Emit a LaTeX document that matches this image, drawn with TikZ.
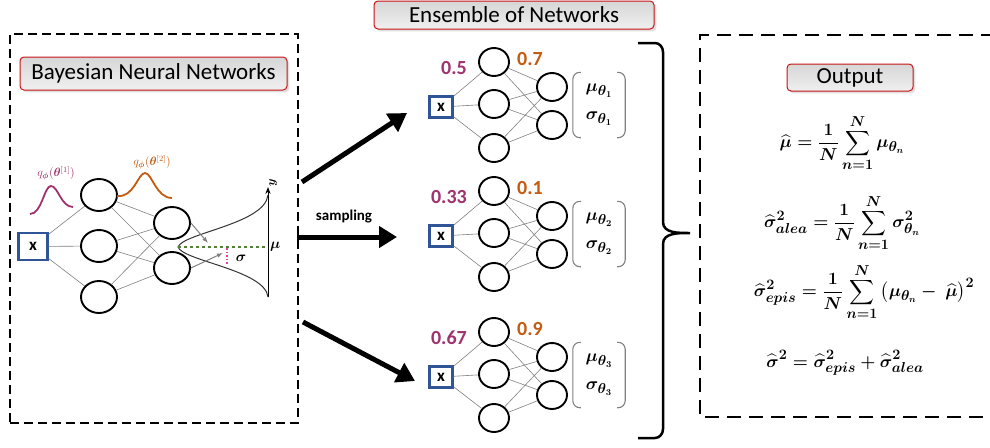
\documentclass[tikz,border=0pt]{standalone}
\usepackage{amsmath,bm}
\usepackage{fontspec}
\setmainfont{Carlito}
\usetikzlibrary{positioning,arrows.meta,shapes.geometric,shadows}

\definecolor{wpurple}{RGB}{160,50,110}
\definecolor{worange}{RGB}{197,90,17}
\definecolor{xblue}{RGB}{47,85,151}
\definecolor{tagred}{RGB}{200,20,20}
\definecolor{meangreen}{RGB}{84,130,53}
\definecolor{sigpink}{RGB}{225,60,170}

\begin{document}
\begin{tikzpicture}[
  x=1pt, y=-1pt,
  panel/.style={draw, dash pattern=on 9pt off 5pt, line width=1.8pt},
  tag/.style={draw=tagred, line width=1pt, rounded corners=4pt, top color=gray!32, bottom color=gray!12, drop shadow={opacity=0.25}, font=\fontsize{23}{26}\selectfont, inner sep=0pt},
  neuron/.style={ellipse, draw, line width=1.9pt, minimum width=30pt, minimum height=28pt, inner sep=0pt},
  bigneuron/.style={neuron, minimum width=36pt, minimum height=32pt},
  inbox/.style={rectangle, draw=xblue, line width=2.3pt, minimum width=23pt, minimum height=21pt, inner sep=0pt, font=\bfseries\fontsize{17}{17}\selectfont},
  wire/.style={gray, line width=0.6pt},
  sample/.style={-{Triangle[length=18pt, width=21pt]}, line width=5pt},
  weight/.style={font=\bfseries\fontsize{20}{20}\selectfont, inner sep=0pt},
  bracket/.style={gray, line width=1.1pt, rounded corners=7pt},
  eqn/.style={font=\fontsize{19}{22}\selectfont\boldmath, inner sep=0pt}
]
\useasboundingbox (0,0) rectangle (990,447);

% Panel 1 - Bayesian neural network
\node[panel, minimum width=288pt, minimum height=389pt] (bnn) at (154,228.5) {};
\node[tag, minimum width=267pt, minimum height=33pt] (bnntag) at (153.5,73.5) {Bayesian Neural Networks};

\node[inbox, minimum width=29pt, minimum height=27pt] (bx) at (33,246.5) {x};
\node[bigneuron] (ba1) at (99,195) {};
\node[bigneuron] (ba2) at (99,246) {};
\node[bigneuron] (ba3) at (99,297) {};
\node[bigneuron] (bb1) at (172,223) {};
\node[bigneuron] (bb2) at (172,268) {};
\foreach \i in {1,2,3} {
  \draw[wire] (bx) -- (ba\i);
  \foreach \j in {1,2} \draw[wire] (ba\i) -- (bb\j);
}

% weight distributions
\draw[wpurple, line width=1.8pt] (30,214) .. controls (42,214) and (44,186) .. (51,186) .. controls (58,186) and (61,207) .. (73,207);
\node[wpurple, font=\fontsize{12}{12}\selectfont] (q1) at (56,173) {$q_{\bm{\phi}}(\bm{\theta}^{[1]})$};
\draw[worange, line width=1.8pt] (117,196) .. controls (134,198) and (138,173) .. (145,173) .. controls (152,173) and (156,198) .. (172,198);
\node[worange, font=\fontsize{12}{12}\selectfont] (q2) at (152,162) {$q_{\bm{\phi}}(\bm{\theta}^{[2]})$};

% predictive distribution
\coordinate (ybot) at (268,297);
\coordinate (ytop) at (268,187);
\draw[-{Stealth[length=7pt]}, line width=1pt] (ybot) -- (ytop);
\node[rotate=90, font=\fontsize{13}{13}\selectfont] (ylab) at (273,183) {$\bm{y}$};
\draw[line width=1pt, black!80] (268,195) .. controls (265,224) and (183,233) .. (178,247) .. controls (183,261) and (265,270) .. (268,297);
\coordinate (apex) at (178,247);
\coordinate (mupt) at (268,247);
\draw[meangreen, dashed, line width=1.2pt] (apex) -- (mupt);
\node[anchor=west, inner sep=1pt, font=\fontsize{14}{14}\selectfont] (mulab) at (269,247) {$\bm{\mu}$};
\coordinate (sigtop) at (227,248);
\coordinate (sigbot) at (227,265);
\draw[sigpink, dotted, line width=1.6pt] (sigtop) -- (sigbot);
\node[font=\fontsize{15}{15}\selectfont] (siglab) at (241,258) {$\bm{\sigma}$};
\coordinate (mutip) at (208,243);
\coordinate (sigtip) at (223,253);
\draw[gray, -{Latex[length=6pt]}, line width=1pt] (bb1.east) -- (mutip);
\draw[gray, -{Latex[length=6pt]}, line width=1pt] (bb2.east) -- (sigtip);

% sampling arrows
\coordinate (s1a) at (302,182); \coordinate (s1b) at (407,113);
\coordinate (s2a) at (297,237); \coordinate (s2b) at (397,237);
\coordinate (s3a) at (303,322); \coordinate (s3b) at (415,381);
\draw[sample] (s1a) -- (s1b);
\draw[sample] (s2a) -- (s2b);
\draw[sample] (s3a) -- (s3b);
\node[font=\bfseries\fontsize{15}{15}\selectfont] (samplab) at (344,217) {sampling};

% Panel 2 - ensemble of networks
\node[tag, minimum width=280pt, minimum height=28pt] (enstag) at (514,15) {Ensemble of Networks};
\foreach \n/\y/\wa/\wb in {1/107/0.5/0.7, 2/236/0.33/0.1, 3/377/0.67/0.9} {
  \node[inbox] (x\n) at (441,\y) {x};
  \node[neuron] (a\n1) at (494,\y-45) {};
  \node[neuron] (a\n2) at (494,\y-3) {};
  \node[neuron] (a\n3) at (494,\y+41) {};
  \node[neuron] (b\n1) at (552,\y-20) {};
  \node[neuron] (b\n2) at (552,\y+18) {};
  \foreach \i in {1,2,3} {
    \draw[wire] (x\n) -- (a\n\i);
    \foreach \j in {1,2} \draw[wire] (a\n\i) -- (b\n\j);
  }
  \node[weight, wpurple, anchor=east] (w\n) at (467,\y-39) {\wa};
  \node[weight, worange, anchor=west] (v\n) at (517,\y-48) {\wb};
  \node[minimum width=52pt, minimum height=65pt, inner sep=0pt, align=center, font=\fontsize{19}{19}\selectfont] (o\n) at (599,\y-2)
    {$\bm{\mu_{\theta_{\n}}}$\\[9pt]$\bm{\sigma_{\theta_{\n}}}$};
  \draw[bracket] ([xshift=8pt]o\n.north west) -- (o\n.north west) -- (o\n.south west) -- ([xshift=8pt]o\n.south west);
  \draw[bracket] ([xshift=-8pt]o\n.north east) -- (o\n.north east) -- (o\n.south east) -- ([xshift=-8pt]o\n.south east);
}

% brace
\coordinate (bt) at (638,43);
\coordinate (bb) at (638,438);
\coordinate (btip) at (690,233);
\draw[line width=2.5pt] (bt) -- (655,43) to[out=0, in=90] (663,52) -- (663,222) to[out=-90, in=180] (btip)
  to[out=180, in=90] (663,244) -- (663,429) to[out=-90, in=0] (655,438) -- (bb);

% Panel 3 - output
\draw[panel, dash pattern=on 14pt off 8pt, line width=2pt] (995,35) -- (700,35) -- (700,417) -- (995,417);
\node[tag, minimum width=126pt, minimum height=27pt] (outtag) at (850,77.5) {Output};
\node[eqn] (eqmu) at (842,143) {$\displaystyle \widehat{\mu} = \frac{1}{N}\sum_{n=1}^{N}\mu_{\theta_n}$};
\node[eqn] (eqalea) at (842,223) {$\displaystyle \widehat{\sigma}^2_{alea} = \frac{1}{N}\sum_{n=1}^{N}\sigma^2_{\theta_n}$};
\node[eqn] (eqepis) at (864,292) {$\displaystyle \widehat{\sigma}^2_{epis} = \frac{1}{N}\sum_{n=1}^{N}\,\bigl(\mu_{\theta_n} - \ \widehat{\mu}\bigr)^2$};
\node[eqn] (eqtot) at (845,363) {$\displaystyle \widehat{\sigma}^2 = \widehat{\sigma}^2_{epis} + \widehat{\sigma}^2_{alea}$};

\end{tikzpicture}
\end{document}
